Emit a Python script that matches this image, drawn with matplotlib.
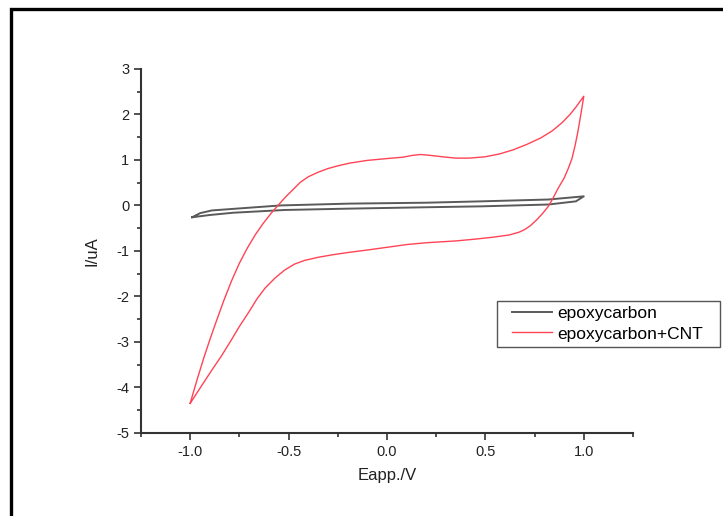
import matplotlib
matplotlib.use('Agg')
import matplotlib.pyplot as plt
from matplotlib.patches import Rectangle
from matplotlib.ticker import MultipleLocator

plt.rcParams['font.family'] = ['Liberation Sans', 'DejaVu Sans']

# epoxycarbon (black loop)
blk_E = [-0.99, -0.95, -0.89, -0.70, -0.54, -0.19, 0.20, 0.48, 0.82, 1.00,
         0.96, 0.82, 0.48, 0.20, -0.19, -0.52, -0.78, -0.90, -0.99]
blk_I = [-0.26, -0.17, -0.11, -0.05, 0.00, 0.04, 0.06, 0.09, 0.13, 0.20,
         0.09, 0.02, -0.02, -0.04, -0.07, -0.10, -0.16, -0.21, -0.26]

# epoxycarbon+CNT (red loop): forward scan then return scan
red_E = [-1.00, -0.98, -0.96, -0.93, -0.90, -0.87, -0.83, -0.79, -0.75, -0.71,
         -0.67, -0.63, -0.59, -0.55, -0.51, -0.47, -0.44, -0.40, -0.35, -0.30,
         -0.25, -0.19, -0.10, 0.00, 0.08, 0.13, 0.17, 0.22, 0.28, 0.35,
         0.42, 0.50, 0.57, 0.64, 0.71, 0.78, 0.84, 0.89, 0.93, 0.96,
         0.98, 1.00,
         0.985, 0.97, 0.955, 0.94, 0.92, 0.90, 0.87, 0.845, 0.82, 0.79,
         0.76, 0.73, 0.70, 0.67, 0.62, 0.535, 0.45, 0.35, 0.20, 0.10,
         0.00, -0.10, -0.19, -0.27, -0.35, -0.42, -0.47, -0.52, -0.57, -0.62,
         -0.66, -0.70, -0.75, -0.79, -0.84, -0.89, -0.94, -0.97, -1.00]
red_I = [-4.35, -4.05, -3.76, -3.34, -2.95, -2.58, -2.10, -1.66, -1.27, -0.94,
         -0.65, -0.40, -0.18, 0.02, 0.21, 0.38, 0.51, 0.63, 0.73, 0.81,
         0.87, 0.93, 0.99, 1.03, 1.06, 1.10, 1.12, 1.10, 1.07, 1.04,
         1.04, 1.07, 1.13, 1.22, 1.34, 1.48, 1.64, 1.82, 2.00, 2.16,
         2.28, 2.40,
         2.00, 1.62, 1.30, 1.03, 0.80, 0.60, 0.38, 0.17, -0.02, -0.18,
         -0.32, -0.44, -0.53, -0.59, -0.65, -0.70, -0.74, -0.78, -0.82, -0.86,
         -0.92, -0.98, -1.03, -1.08, -1.14, -1.21, -1.29, -1.42, -1.60, -1.82,
         -2.05, -2.33, -2.66, -2.95, -3.30, -3.62, -3.95, -4.15, -4.35]

fig = plt.figure(figsize=(7.23, 5.16), dpi=100)
ax = fig.add_axes([0.195, 0.161, 0.6805, 0.7054])

ax.plot(blk_E, blk_I, color='#5a5a5a', lw=1.4, label='epoxycarbon')
ax.plot(red_E, red_I, color='#ff4455', lw=1.0, label='epoxycarbon+CNT')

ax.set_xlim(-1.25, 1.25)
ax.set_ylim(-5, 3)
ax.xaxis.set_minor_locator(MultipleLocator(0.25))
ax.yaxis.set_minor_locator(MultipleLocator(0.5))
ax.set_xticks([-1.0, -0.5, 0.0, 0.5, 1.0])
ax.set_xticklabels(['-1.0', '-0.5', '0.0', '0.5', '1.0'])
ax.set_yticks(range(-5, 4))
ax.set_yticklabels([str(v) for v in range(-5, 4)])

for s in ['top', 'right']:
    ax.spines[s].set_visible(False)
for s in ['left', 'bottom']:
    ax.spines[s].set_color('#333333')
    ax.spines[s].set_linewidth(1.5)
ax.tick_params(which='both', direction='out', color='#333333', width=1.2,
               labelsize=10.5, labelcolor='#222222')
ax.tick_params(which='major', length=5)
ax.tick_params(which='minor', length=3)

ax.set_xlabel('Eapp./V', fontsize=12, color='#222222', labelpad=7)
ax.set_ylabel('I/uA', fontsize=12, color='#222222', labelpad=12)

# legend text without frame, box drawn separately (wider padding than legend allows)
fig.legend(loc='upper left', bbox_to_anchor=(512 / 723, 1 - 306 / 516), fontsize=12.5,
           frameon=False, handlelength=2.3, handletextpad=0.3, borderpad=0,
           labelspacing=0.3, borderaxespad=0)
leg_box = Rectangle((497 / 723, 1 - 347 / 516), 223 / 723, 46 / 516,
                    transform=fig.transFigure, fill=False, edgecolor='#555555', lw=1.0)
fig.patches.append(leg_box)

frame = Rectangle((11 / 723, -0.1), 1.2, 1.1 - 9 / 516, transform=fig.transFigure,
                  fill=False, edgecolor='black', lw=2.4, clip_on=False)
fig.patches.append(frame)

fig.savefig('out.png', dpi=100)
